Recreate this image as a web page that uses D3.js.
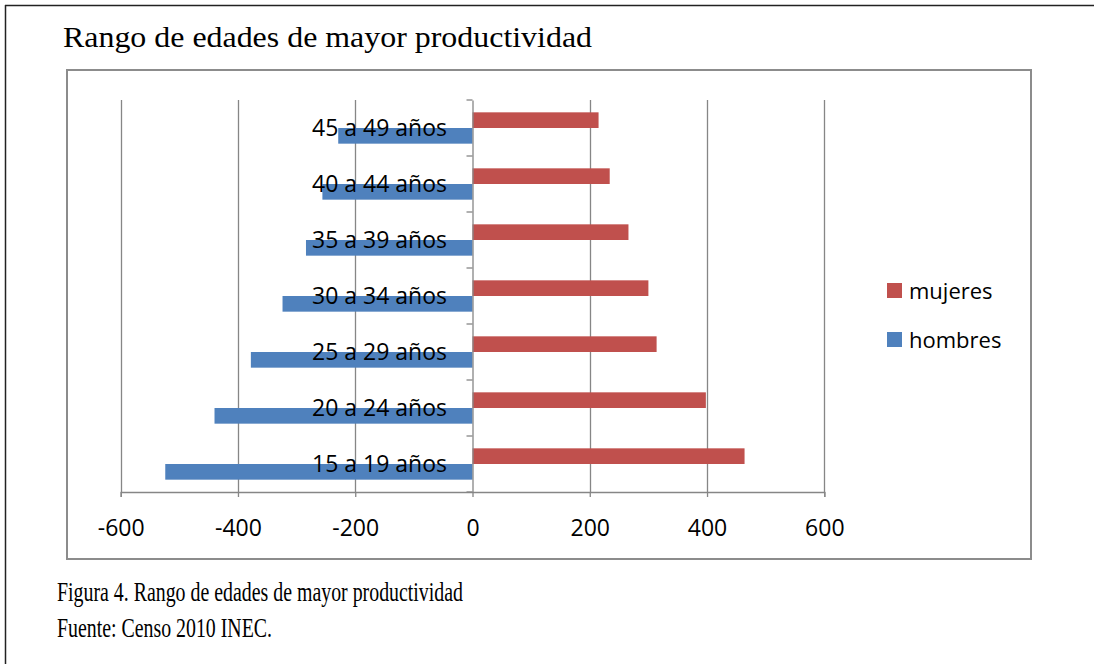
<!DOCTYPE html>
<html>
<head>
<meta charset="utf-8">
<script src="https://cdn.jsdelivr.net/npm/d3@7"></script>
<style>
  html, body { margin: 0; padding: 0; background: #fff; }
  svg { display: block; }
</style>
</head>
<body>
<svg id="chart" width="1094" height="664"></svg>
<script>
const categories = ["15 a 19 años", "20 a 24 años", "25 a 29 años", "30 a 34 años", "35 a 39 años", "40 a 44 años", "45 a 49 años"];
const mujeres = [464, 398, 314, 300, 266, 234, 215];
const hombres = [-524, -440, -378, -324, -284, -256, -229];
const seriesNames = ["mujeres", "hombres"];
const xTicks = [-600, -400, -200, 0, 200, 400, 600];
const titleText = "Rango de edades de mayor productividad";
const captionLines = ["Figura 4. Rango de edades de mayor productividad", "Fuente: Censo 2010 INEC."];

const colors = { mujeres: "#C0504D", hombres: "#4F81BD" };
const sansFont = "'Open Sans', 'Noto Sans', sans-serif";
const serifFont = "'Liberation Serif', 'DejaVu Serif', serif";

const svg = d3.select("#chart");

// outer frame (top and left edges)
svg.append("line").attr("x1", 5).attr("y1", 5.5).attr("x2", 1094).attr("y2", 5.5)
  .attr("stroke", "#222").attr("stroke-width", 1.5);
svg.append("line").attr("x1", 5.5).attr("y1", 5).attr("x2", 5.5).attr("y2", 664)
  .attr("stroke", "#222").attr("stroke-width", 1.5);

// title
svg.append("text").attr("x", 63).attr("y", 47)
  .attr("font-family", serifFont).attr("font-size", 30).attr("fill", "#000")
  .attr("textLength", 529).attr("lengthAdjust", "spacingAndGlyphs")
  .text(titleText);

// chart box
svg.append("rect").attr("x", 67).attr("y", 70).attr("width", 964).attr("height", 489)
  .attr("fill", "#fff").attr("stroke", "#8c8c8c").attr("stroke-width", 2);

const x = d3.scaleLinear().domain([-600, 600]).range([120.7, 824.3]);
const y = d3.scaleBand().domain(categories.slice().reverse()).range([100, 492]).padding(0);
const sub = d3.scaleBand().domain(seriesNames).range([0, y.bandwidth()]).paddingInner(0).paddingOuter(0.787);

const plotTop = 100, plotBottom = 492;

// vertical gridlines
svg.append("g").selectAll("line").data(xTicks.filter(d => d !== 0)).join("line")
  .attr("x1", d => Math.round(x(d)) + 0.5).attr("x2", d => Math.round(x(d)) + 0.5)
  .attr("y1", plotTop).attr("y2", plotBottom)
  .attr("stroke", "#868686").attr("stroke-width", 1.3);

// bars
const rows = categories.map((c, i) => ({ cat: c, mujeres: mujeres[i], hombres: hombres[i] }));
const barG = svg.append("g");
seriesNames.forEach(s => {
  barG.selectAll("rect." + s).data(rows).join("rect")
    .attr("class", s)
    .attr("x", d => x(Math.min(0, d[s])))
    .attr("width", d => Math.abs(x(d[s]) - x(0)))
    .attr("y", d => y(d.cat) + sub(s))
    .attr("height", sub.bandwidth())
    .attr("fill", colors[s]);
});

// bottom axis
const xAxis = d3.axisBottom(x).tickValues(xTicks).tickSize(5).tickPadding(8).tickFormat(d => String(d));
const gx = svg.append("g").attr("transform", `translate(0,${plotBottom})`).call(xAxis);
gx.select(".domain").attr("stroke", "#868686").attr("stroke-width", 1.3);
gx.selectAll(".tick line").attr("stroke", "#868686").attr("stroke-width", 1.3);
gx.selectAll(".tick text").attr("font-family", sansFont).attr("font-size", 23).attr("fill", "#000")
  .attr("dy", null).attr("y", 44);

// vertical category axis at zero
const yAxis = d3.axisLeft(y).tickValues([]).tickSize(0);
const gy = svg.append("g").attr("transform", `translate(${x(0)},0)`).call(yAxis);
gy.select(".domain").attr("stroke", "#868686").attr("stroke-width", 1.3);
const boundaries = y.domain().map(c => y(c)).concat([plotBottom]);
svg.append("g").selectAll("line").data(boundaries).join("line")
  .attr("x1", x(0) - 6).attr("x2", x(0)).attr("y1", d => d).attr("y2", d => d)
  .attr("stroke", "#868686").attr("stroke-width", 1.3);

// category labels
svg.append("g").selectAll("text").data(categories).join("text")
  .attr("x", 447).attr("y", d => y(d) + y.bandwidth() / 2 + 8)
  .attr("text-anchor", "end")
  .attr("font-family", sansFont).attr("font-size", 23).attr("fill", "#000")
  .text(d => d);

// legend
const legendItems = ["mujeres", "hombres"];
const lg = svg.append("g");
legendItems.forEach((s, i) => {
  lg.append("rect").attr("x", 887).attr("y", 283 + i * 49).attr("width", 15).attr("height", 15).attr("fill", colors[s]);
  lg.append("text").attr("x", 909).attr("y", 299 + i * 49)
    .attr("font-family", sansFont).attr("font-size", 22).attr("fill", "#000").text(s);
});

// caption
const capWidths = [406, 215];
svg.append("g").selectAll("text").data(captionLines).join("text")
  .attr("x", 57).attr("y", (d, i) => 601 + i * 36)
  .attr("font-family", serifFont).attr("font-size", 27).attr("fill", "#000")
  .attr("textLength", (d, i) => capWidths[i]).attr("lengthAdjust", "spacingAndGlyphs")
  .text(d => d);
</script>
</body>
</html>
